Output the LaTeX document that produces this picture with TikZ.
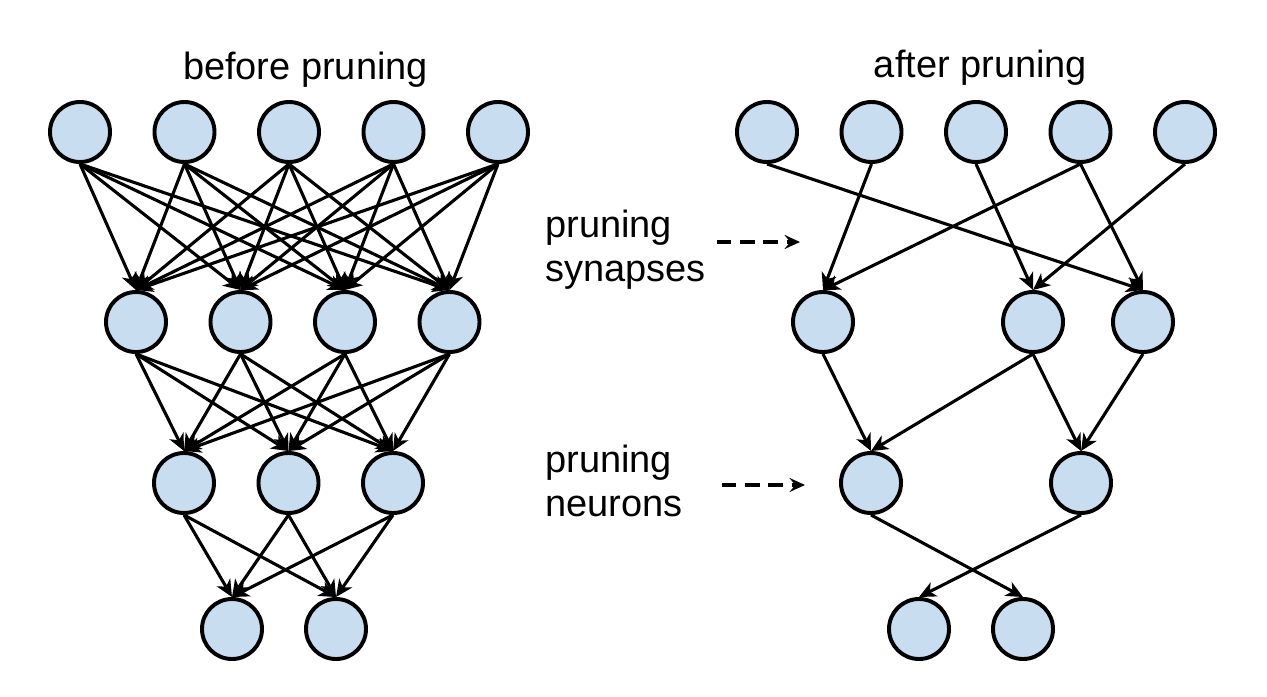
\documentclass[tikz,border=0pt]{standalone}
\usepackage{fontspec}
\setmainfont{Liberation Sans}
\usepackage{xcolor}
\usetikzlibrary{
    arrows.meta,
    positioning
}
\definecolor{neuronblue}{HTML}{C9DDF0}

\begin{document}
\begin{tikzpicture}[x=0.025cm, y=-0.025cm,
    neuron/.style={circle, draw, line width=2.8pt, fill=neuronblue, minimum size=1.5cm, inner sep=0pt},
    synapse/.style={draw, line width=2.2pt, -{Stealth[length=12pt, width=11pt, inset=3.5pt]}},
    prune/.style={line width=2.6pt, dash pattern=on 0.36cm off 0.22cm, -{Stealth[length=11pt, width=10pt, inset=4pt]}},
    caption/.style={font=\fontsize{27}{31.5}\selectfont, inner sep=0pt}]
    \useasboundingbox (0, 0) rectangle (1267, 696);
    % before pruning
    \foreach \i in {1,...,5} \node[neuron] (b1\i) at ({80+104.5*(\i-1)}, 132) {};
    \foreach \i in {1,...,4} \node[neuron] (b2\i) at ({136+104.5*(\i-1)}, 322) {};
    \foreach \i in {1,2,3} \node[neuron] (b3\i) at ({184+104.5*(\i-1)}, 483) {};
    \node[neuron] (b41) at (232, 629) {};
    \node[neuron] (b42) at (336, 629) {};
    \foreach \i in {1,...,5} \foreach \j in {1,...,4} \draw[synapse] (b1\i.south) -- (b2\j.north);
    \foreach \i in {1,...,4} \foreach \j in {1,2,3} \draw[synapse] (b2\i.south) -- (b3\j.north);
    \foreach \i in {1,2,3} \foreach \j in {1,2} \draw[synapse] (b3\i.south) -- (b4\j.north);
    % after pruning
    \foreach \i in {1,...,5} \node[neuron] (a1\i) at ({767+104.5*(\i-1)}, 132) {};
    \node[neuron] (a21) at (823, 322) {};
    \node[neuron] (a22) at (1033, 322) {};
    \node[neuron] (a23) at (1143, 322) {};
    \node[neuron] (a31) at (871, 483) {};
    \node[neuron] (a32) at (1081, 483) {};
    \node[neuron] (a41) at (919, 629) {};
    \node[neuron] (a42) at (1023, 629) {};
    \path
    (a11.south) edge[synapse] (a23.north)
    (a12.south) edge[synapse] (a21.north)
    (a13.south) edge[synapse] (a22.north)
    (a14.south) edge[synapse] (a21.north)
    (a14.south) edge[synapse] (a23.north)
    (a15.south) edge[synapse] (a22.north)
    (a21.south) edge[synapse] (a31.north)
    (a22.south) edge[synapse] (a31.north)
    (a22.south) edge[synapse] (a32.north)
    (a23.south) edge[synapse] (a32.north)
    (a31.south) edge[synapse] (a42.north)
    (a32.south) edge[synapse] (a41.north);
    % labels
    \node[caption, anchor=base] (before) at (305.5, 80) {before pruning};
    \node[caption, anchor=base] (after) at (980.5, 78) {after pruning};
    \node[caption, anchor=west, align=left] (synlabel) at (545, 250) {pruning\\synapses};
    \node[caption, anchor=west, align=left] (neulabel) at (545, 481) {pruning\\neurons};
    \coordinate (synfrom) at (717, 242);
    \coordinate (synto) at (800, 242);
    \coordinate (neufrom) at (722, 485);
    \coordinate (neuto) at (805, 485);
    \draw[prune] (synfrom) -- (synto);
    \draw[prune] (neufrom) -- (neuto);
\end{tikzpicture}
\end{document}
